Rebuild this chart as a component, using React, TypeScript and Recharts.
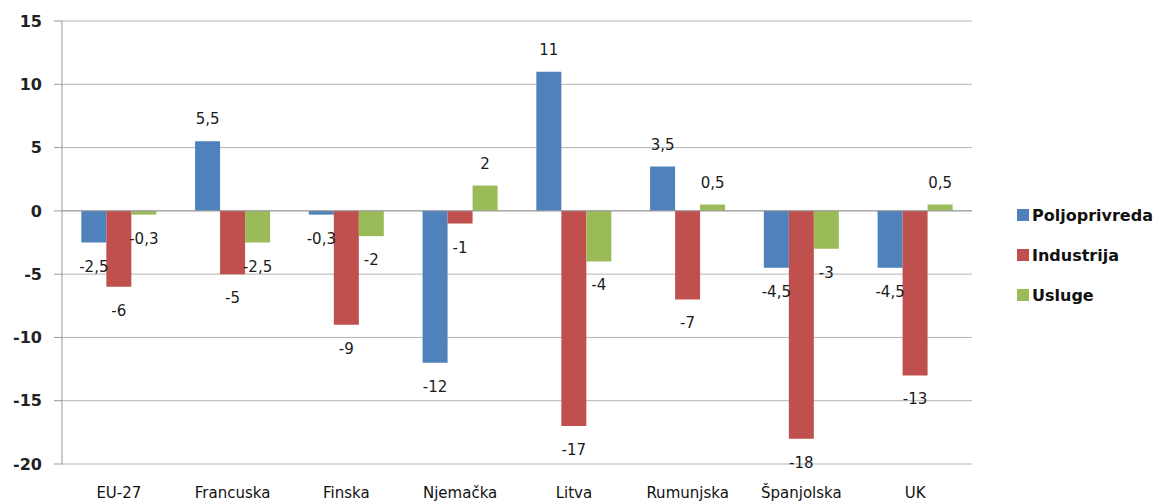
import { BarChart, Bar, XAxis, YAxis, CartesianGrid, ReferenceLine, LabelList } from 'recharts'

const categories = ['EU-27', 'Francuska', 'Finska', 'Njemačka', 'Litva', 'Rumunjska', 'Španjolska', 'UK']
const poljoprivreda = [-2.5, 5.5, -0.3, -12, 11, 3.5, -4.5, -4.5]
const industrija = [-6, -5, -9, -1, -17, -7, -18, -13]
const usluge = [-0.3, -2.5, -2, 2, -4, 0.5, -3, 0.5]

const seriesKeys = ['poljoprivreda', 'industrija', 'usluge']
const seriesNames = ['Poljoprivreda', 'Industrija', 'Usluge']
const seriesColors = ['#4F81BD', '#C0504D', '#9BBB59']
const yTicks = [-20, -15, -10, -5, 0, 5, 10, 15]

const data = categories.map((name, i) => ({
    name,
    poljoprivreda: poljoprivreda[i],
    industrija: industrija[i],
    usluge: usluge[i],
}))

const FONT = '"DejaVu Sans", Verdana, sans-serif'

// value labels: above positive bars, below negative ones
const ValueLabel = (props: any) => {
    const { x, y, width, height, value } = props
    if (value === undefined || value === null) return null
    const top = Math.min(y, y + height)
    const bottom = Math.max(y, y + height)
    const cy = value >= 0 ? top - 22 : bottom + 24
    return (
        <text
            x={x + width / 2}
            y={cy}
            textAnchor="middle"
            dominantBaseline="central"
            fontSize={15}
            fontFamily={FONT}
            fill="#1a1a1a"
        >
            {String(value).replace('.', ',')}
        </text>
    )
}

export default function App() {
    return (
        <div style={{ position: 'absolute', left: 0, top: 0, width: 1163, height: 501, background: '#fff', fontFamily: FONT }}>
            <BarChart
                width={1163}
                height={501}
                data={data}
                margin={{ top: 21, right: 191, bottom: 0, left: 0 }}
                barCategoryGap="17%"
                barGap={0}
            >
                <CartesianGrid vertical={false} stroke="#b4b4b4" />
                <YAxis
                    width={62}
                    domain={[-20, 15]}
                    ticks={yTicks}
                    interval={0}
                    stroke="#999"
                    tickSize={8}
                    tickMargin={12}
                    tick={{ fontSize: 16, fontWeight: 'bold', fill: '#222', fontFamily: FONT }}
                />
                <XAxis
                    dataKey="name"
                    height={37}
                    axisLine={false}
                    tickLine={false}
                    tickMargin={17}
                    interval={0}
                    tick={{ fontSize: 15, fill: '#111', fontFamily: FONT }}
                />
                <ReferenceLine y={0} stroke="#999" />
                {seriesKeys.map((key, i) => (
                    <Bar key={key} dataKey={key} name={seriesNames[i]} fill={seriesColors[i]} isAnimationActive={false}>
                        <LabelList dataKey={key} content={ValueLabel} />
                    </Bar>
                ))}
            </BarChart>
            {seriesNames.map((name, i) => (
                <div
                    key={name}
                    style={{
                        position: 'absolute',
                        left: 1017,
                        top: 205 + i * 40,
                        height: 20,
                        display: 'flex',
                        alignItems: 'center',
                        fontSize: 16,
                        fontWeight: 'bold',
                        color: '#111',
                    }}
                >
                    <span style={{ width: 12, height: 12, background: seriesColors[i], marginRight: 3, display: 'inline-block' }} />
                    {name}
                </div>
            ))}
        </div>
    )
}
